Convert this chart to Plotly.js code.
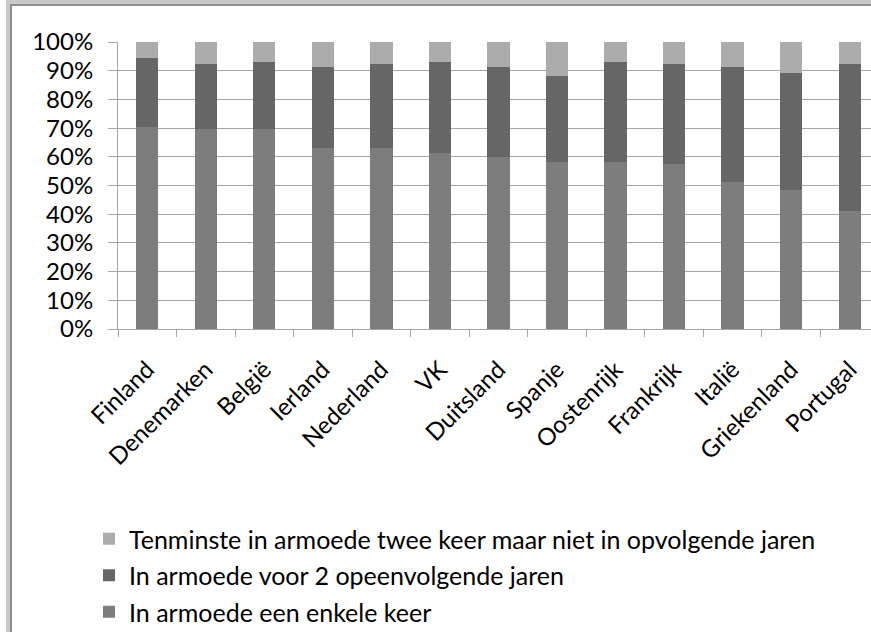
<!DOCTYPE html>
<html>
<head>
<meta charset="utf-8">
<script src="https://cdn.plot.ly/plotly-3.0.1.min.js"></script>
<style>
html, body { margin: 0; padding: 0; overflow: hidden; background: #ffffff; width: 871px; height: 632px; }
#chart { position: absolute; left: 0; top: 0; width: 880px; height: 632px; }
#frameOuter { position: absolute; left: 6px; top: 0; width: 900px; height: 700px;
  border-left: 4px solid #c9c9c9; border-top: 4px solid #c9c9c9; pointer-events: none; }
#frameInner { position: absolute; left: 0; top: 0; width: 100%; height: 100%;
  border-left: 2px solid #8e8e8e; border-top: 2px solid #8e8e8e; pointer-events: none; }
</style>
</head>
<body>
<div id="chart"></div>
<div id="frameOuter"><div id="frameInner"></div></div>
<script>
const countries = ["Finland", "Denemarken", "België", "Ierland", "Nederland", "VK", "Duitsland",
  "Spanje", "Oostenrijk", "Frankrijk", "Italië", "Griekenland", "Portugal"];
const seriesNames = [
  "In armoede een enkele keer",
  "In armoede voor 2 opeenvolgende jaren",
  "Tenminste in armoede twee keer maar niet in opvolgende jaren"
];
const enkeleKeer      = [70.4, 69.6, 69.6, 63.2, 63.2, 61.3, 60.0, 58.3, 58.3, 57.4, 51.1, 48.4, 41.2];
const tweeOpeenvolgend = [24.0, 22.7, 23.5, 28.2, 29.0, 31.8, 31.3, 30.0, 34.8, 34.8, 40.3, 40.7, 51.0];
const tenminsteTwee   = [ 5.6,  7.7,  6.9,  8.6,  7.8,  6.9,  8.7, 11.7,  6.9,  7.8,  8.6, 10.9,  7.8];
const yTickVals = [0, 10, 20, 30, 40, 50, 60, 70, 80, 90, 100];
const yTickText = ["0%", "10%", "20%", "30%", "40%", "50%", "60%", "70%", "80%", "90%", "100%"];

const colors = ["#7d7d7d", "#666666", "#acacac"];
const values = [enkeleKeer, tweeOpeenvolgend, tenminsteTwee];
const ranks = [3, 2, 1];
const font = "Lato, 'Open Sans', sans-serif";
const fs = 24;

const traces = values.map((v, i) => ({
  type: "bar",
  x: countries,
  y: v,
  name: seriesNames[i],
  legendgroup: "g" + i,
  legendrank: ranks[i],
  marker: { color: colors[i], line: { width: 0 } },
  hoverinfo: "x+y+name"
}));

const W = 880, H = 632;
const layout = {
  width: W, height: H,
  barmode: "stack",
  barnorm: "percent",
  bargap: 0.62,
  margin: { l: 118, r: 4, t: 42, b: 303, pad: 0, autoexpand: false },
  paper_bgcolor: "#ffffff",
  plot_bgcolor: "#ffffff",
  font: { family: font, size: fs, color: "#000000" },
  showlegend: true,
  legend: {
    xref: "container", yref: "container",
    x: 89 / W, y: 1 - 516 / H, xanchor: "left", yanchor: "top",
    traceorder: "grouped",
    tracegroupgap: 1,
    font: { family: font, size: 25, color: "#000000" },
    bgcolor: "rgba(0,0,0,0)"
  },
  xaxis: {
    type: "category",
    range: [-0.5, 12.45],
    tickson: "boundaries",
    ticks: "outside", ticklen: 7, tickcolor: "#a6a6a6", tickwidth: 1,
    showline: true, linecolor: "#a6a6a6", linewidth: 1,
    showgrid: false,
    tickangle: -45,
    ticklabelstandoff: 16,
    tickfont: { family: font, size: fs, color: "#000000" },
    automargin: false,
    fixedrange: true
  },
  yaxis: {
    range: [0, 100],
    tickvals: yTickVals,
    ticktext: yTickText,
    ticks: "outside", ticklen: 9, tickcolor: "#a6a6a6", tickwidth: 1,
    showline: true, linecolor: "#a6a6a6", linewidth: 1,
    showgrid: true, gridcolor: "#a6a6a6", gridwidth: 1,
    zeroline: false,
    ticklabelstandoff: 10,
    tickfont: { family: font, size: fs, color: "#000000" },
    automargin: false,
    fixedrange: true
  }
};

Plotly.newPlot("chart", traces, layout, { displayModeBar: false, staticPlot: true });
</script>
</body>
</html>
